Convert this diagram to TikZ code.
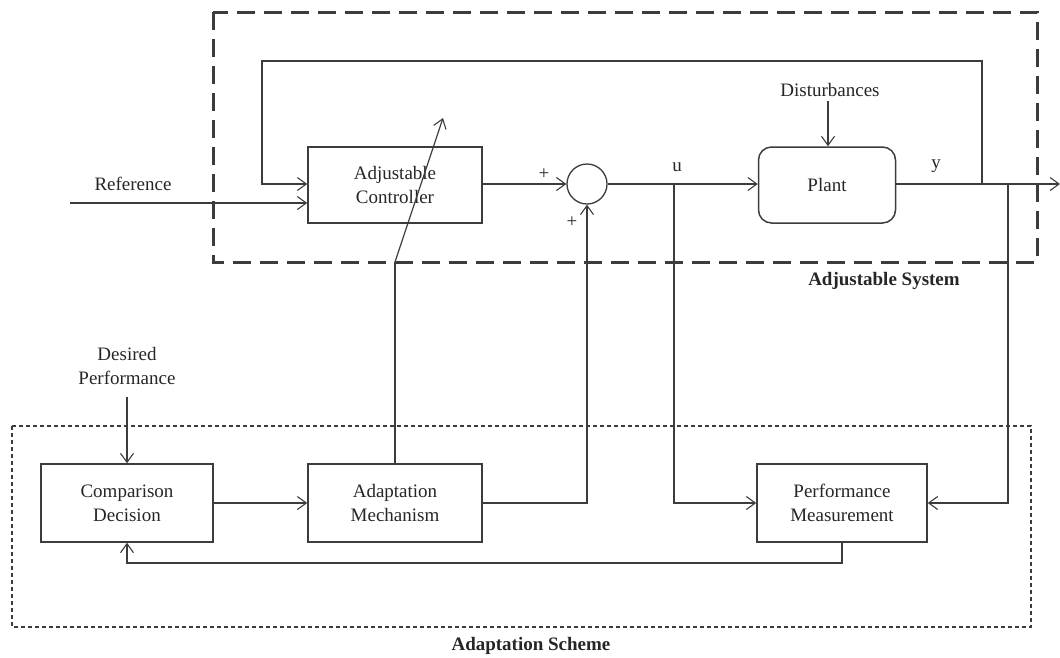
\documentclass[tikz,border=0pt]{standalone}
\usepackage{fontspec}
\setmainfont{Liberation Serif}
\usetikzlibrary{arrows.meta,calc}
\definecolor{ln}{HTML}{3C3C3C}
\begin{document}
\begin{tikzpicture}[x=1pt,y=-1pt,
  every node/.style={font=\fontsize{19}{24}\selectfont, text=black!85},
  blk/.style={draw=ln, line width=1.5pt, minimum width=172pt, minimum height=78pt, align=center, inner sep=0pt},
  conn/.style={draw=ln, line width=1.2pt},
  arr/.style={conn, -{Straight Barb[length=9pt,width=13pt,line width=1.1pt]}},
  lbl/.style={inner sep=0pt, align=center},
  bold/.style={inner sep=0pt, font=\fontsize{19}{24}\selectfont\bfseries}
]
\useasboundingbox (0,0) rectangle (1060,657);

% enclosures
\draw[ln, line width=3pt, dash pattern=on 18pt off 9pt] (213,12) rectangle (1037,262);
\draw[ln, line width=1.3pt, dash pattern=on 4pt off 3pt] (12,426) rectangle (1031,627);
\node[bold] (lsys) at (884,281) {Adjustable System};
\node[bold] (lsch) at (531,646) {Adaptation Scheme};

% blocks
\node[blk, minimum width=174pt, minimum height=76pt] (ctrl) at (395,185) {Adjustable\\Controller};
\node[draw=ln, line width=1.3pt, circle, minimum size=40pt, inner sep=0pt] (sum) at (587,184) {};
\node[blk, minimum width=137pt, minimum height=76pt, rounded corners=13pt] (plant) at (827,185) {Plant};
\node[blk] (comp) at (127,503) {Comparison\\Decision};
\node[blk, minimum width=174pt] (mech) at (395,503) {Adaptation\\Mechanism};
\node[blk, minimum width=170pt] (perf) at (842,503) {Performance\\Measurement};

% free labels
\node[lbl] (lref) at (133,184) {Reference};
\node[lbl] (ldist) at (830,90) {Disturbances};
\node[lbl] (ldes) at (127,366) {Desired\\Performance};
\node[lbl] (lu) at (677,167) {u};
\node[lbl] (ly) at (936,166) {y};
\node[lbl] (lp1) at (544,174) {+};
\node[lbl] (lp2) at (572,222) {+};

% coordinates
\coordinate (refin) at (70,203);
\coordinate (out) at (1060,184);
\coordinate (jy) at (982,184);
\coordinate (jm) at (1008,184);
\coordinate (ju) at (674,184);
\coordinate (dtop) at (828,101);
\coordinate (destop) at (127,397);
\coordinate (tune0) at (395,262);
\coordinate (tune1) at (443,118);

% connectors
\draw[arr, line width=2pt] (refin) -- (refin -| ctrl.west);
\draw[arr] (jy) -- (982,61) -- (262,61) -- (262,184) -- (ctrl.west |- 0,184);
\draw[arr] (ctrl.east |- 0,184) -- (sum.west);
\draw[arr] (sum.east) -- (plant.west |- 0,184);
\draw[arr] (plant.east |- 0,184) -- (out);
\draw[arr] (dtop) -- (plant.north -| dtop);
\draw[arr] (ju) -- (674,503) -- (perf.west);
\draw[arr] (jm) -- (1008,503) -- (perf.east);
\draw[arr] (perf.south) -- (842,563) -- (127,563) -- (comp.south);
\draw[arr] (destop) -- (comp.north);
\draw[arr] (comp.east) -- (mech.west);
\draw[arr] (mech.east) -- (587,503) -- (sum.south);
\draw[conn] (mech.north) -- (tune0);
\draw[arr] (tune0) -- (tune1);
\end{tikzpicture}
\end{document}
